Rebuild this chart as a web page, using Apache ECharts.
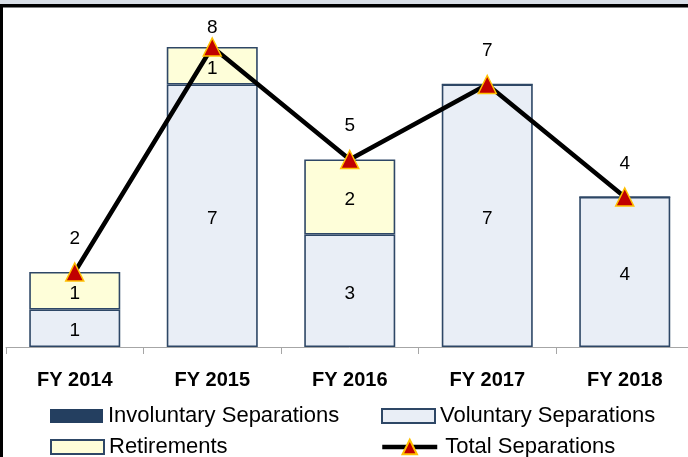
<!DOCTYPE html>
<html>
<head>
<meta charset="utf-8">
<script src="https://cdn.jsdelivr.net/npm/echarts@6/dist/echarts.min.js"></script>
<style>html,body{margin:0;padding:0;background:#fff;overflow:hidden;width:688px;height:457px;}#chart{width:694px;height:457px;}</style>
</head>
<body>
<div id="chart"></div>
<script>
var categories = ['FY 2014', 'FY 2015', 'FY 2016', 'FY 2017', 'FY 2018'];
var involuntary = [0, 0, 0, 0, 0];
var voluntary = [1, 7, 3, 7, 4];
var retirements = [1, 1, 2, 0, 0];
var totals = [2, 8, 5, 7, 4];

var FONT = '"Liberation Sans", Arial, sans-serif';
var edge = '#2e4766';
var chart = echarts.init(document.getElementById('chart'), null, {renderer: 'canvas'});

function legendItem(name, left, top, extra) {
  var l = {
    show: true, left: left, top: top, itemWidth: 53, itemHeight: 14, padding: 0,
    data: [name], selectedMode: false, icon: 'rect',
    textStyle: {fontFamily: FONT, fontSize: 22, color: '#000', lineHeight: 22}
  };
  if (extra) Object.assign(l, extra);
  return l;
}

var totalData = totals.map(function (v, i) {
  var d = {value: v};
  if (v === Math.max.apply(null, totals)) d.label = {distance: 0};
  return d;
});

chart.setOption({
  animation: false,
  backgroundColor: '#fff',
  grid: {left: 6, top: 9.5, right: 0.5, height: 337.5, containLabel: false},
  xAxis: {
    type: 'category', data: categories,
    axisLine: {show: true, lineStyle: {color: '#a6a6a6', width: 1}},
    axisTick: {show: true, length: 7, lineStyle: {color: '#a6a6a6'}},
    axisLabel: {fontFamily: FONT, fontSize: 20, fontWeight: 'bold', color: '#000', margin: 23}
  },
  yAxis: {type: 'value', min: 0, max: 9, show: false, splitLine: {show: false}},
  legend: [
    legendItem('Involuntary Separations', 50, 405),
    legendItem('Voluntary Separations', 381, 405),
    legendItem('Retirements', 50, 436),
    legendItem('Total Separations', 380, 436, {
      icon: null,
      itemWidth: 55, itemHeight: 18,
      lineStyle: {color: '#000', width: 4.5},
      textStyle: {fontFamily: FONT, fontSize: 22, color: '#000', lineHeight: 22, padding: [0, 0, 0, 3]}
    })
  ],
  series: [
    {
      name: 'Involuntary Separations', type: 'bar', stack: 's', data: involuntary, barWidth: 91,
      itemStyle: {color: '#243f60', borderWidth: 0}
    },
    {
      name: 'Voluntary Separations', type: 'bar', stack: 's', data: voluntary, barWidth: 91,
      itemStyle: {color: '#e9eef6', borderColor: edge, borderWidth: 1.6},
      label: {show: true, position: 'inside', offset: [0, 3], fontFamily: FONT, fontSize: 19, color: '#000',
        formatter: function (p) { return p.value ? p.value : ''; }}
    },
    {
      name: 'Retirements', type: 'bar', stack: 's', data: retirements, barWidth: 91,
      itemStyle: {color: '#fefed9', borderColor: edge, borderWidth: 1.6},
      label: {show: true, position: 'inside', offset: [0, 3], fontFamily: FONT, fontSize: 19, color: '#000',
        formatter: function (p) { return p.value ? p.value : ''; }}
    },
    {
      name: 'Total Separations', type: 'line', data: totalData, z: 5,
      lineStyle: {color: '#000', width: 4.5},
      symbol: 'triangle', symbolSize: 18, showAllSymbol: true,
      itemStyle: {color: '#c00000', borderColor: '#ffc000', borderWidth: 1.5},
      label: {show: true, position: 'top', distance: 14, fontFamily: FONT, fontSize: 19, color: '#000'}
    }
  ],
  graphic: [
    {type: 'rect', shape: {x: 0, y: 0, width: 694, height: 4}, style: {fill: '#d8dee6'}, z: 100},
    {type: 'rect', shape: {x: 0, y: 4, width: 694, height: 3.5}, style: {fill: '#000'}, z: 100},
    {type: 'rect', shape: {x: 0, y: 4, width: 3, height: 453}, style: {fill: '#000'}, z: 100}
  ]
});
</script>
</body>
</html>
